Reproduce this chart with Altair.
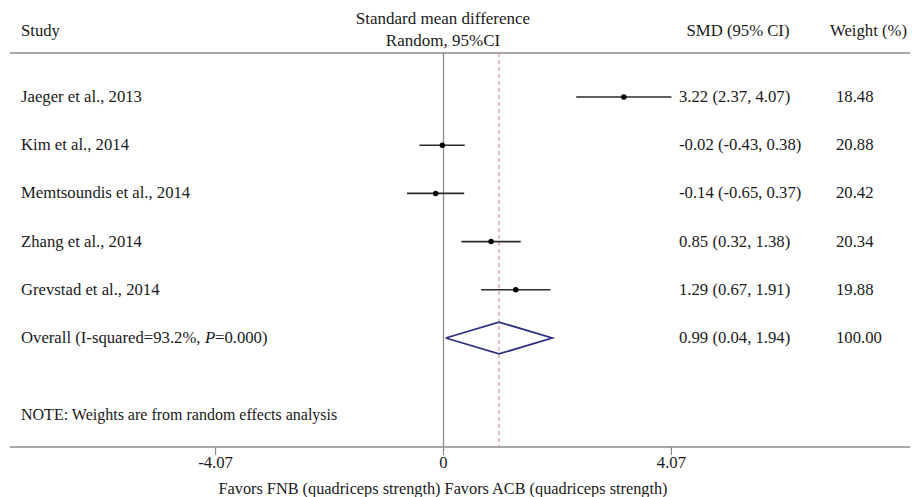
import altair as alt
import pandas as pd

studies = ["Jaeger et al., 2013", "Kim et al., 2014", "Memtsoundis et al., 2014",
           "Zhang et al., 2014", "Grevstad et al., 2014"]
smd = [3.22, -0.02, -0.14, 0.85, 1.29]
lo = [2.37, -0.43, -0.65, 0.32, 0.67]
hi = [4.07, 0.38, 0.37, 1.38, 1.91]
weights = ["18.48", "20.88", "20.42", "20.34", "19.88"]
overall = {"est": 0.99, "lo": 0.04, "hi": 1.94, "weight": "100.00"}
tick_vals = [-4.07, 0, 4.07]
tick_labels = ["-4.07", "0", "4.07"]

FONT = "Liberation Serif"
FS = 16.7
TXT = "#1a1a1a"
GRAY = "#8a8a8a"

W, H = 904, 489
xs = alt.Scale(domain=[(8 - 443.5) / 56.0, (912 - 443.5) / 56.0], nice=False, zero=False)
# row r -> plot y = 89 + (r-1)*48.2
ys = alt.Scale(domain=[1 - 89 / 48.2, 1 + (H - 89) / 48.2], nice=False, zero=False, reverse=True)

rows = list(range(1, len(studies) + 1))
df = pd.DataFrame({"study": studies, "smd": smd, "lo": lo, "hi": hi, "w": weights, "row": rows})
df["ci"] = [f"{s:.2f} ({l:.2f}, {h:.2f})" for s, l, h in zip(smd, lo, hi)]

ov_row = len(studies) + 1
ov = pd.DataFrame({"row": [ov_row], "lo": [overall["lo"]], "hi": [overall["hi"]], "est": [overall["est"]],
                   "ci": [f"{overall['est']:.2f} ({overall['lo']:.2f}, {overall['hi']:.2f})"],
                   "w": [overall["weight"]]})

half = 0.33
diamond = pd.DataFrame({
    "x": [overall["lo"], overall["est"], overall["hi"], overall["est"], overall["lo"]],
    "y": [ov_row, ov_row - half, ov_row, ov_row + half, ov_row],
    "o": [0, 1, 2, 3, 4],
})

base = alt.Chart(df)

ci_lines = base.mark_rule(color="#2a2a2a", strokeWidth=1.6).encode(
    x=alt.X("lo:Q", scale=xs, axis=None), x2="hi:Q",
    y=alt.Y("row:Q", scale=ys, axis=None))
dots = base.mark_point(filled=True, color="#000", size=30, opacity=1).encode(
    x=alt.X("smd:Q", scale=xs, axis=None), y=alt.Y("row:Q", scale=ys, axis=None))

def col_text(src, field, x, **kw):
    return src.mark_text(align="left", baseline="middle", font=FONT, fontSize=FS, color=TXT, **kw).encode(
        x=alt.value(x), y=alt.Y("row:Q", scale=ys, axis=None), text=field)

study_txt = col_text(base, "study:N", 13)
ci_txt = col_text(base, "ci:N", 671)
w_txt = col_text(base, "w:N", 828)

ovb = alt.Chart(ov)
ov_ci = col_text(ovb, "ci:N", 671)
ov_w = col_text(ovb, "w:N", 828)
ov_lab1 = col_text(ovb, alt.value("Overall (I-squared=93.2%,"), 13)
ov_lab2 = col_text(ovb, alt.value("P"), 197, fontStyle="italic")
ov_lab3 = col_text(ovb, alt.value("=0.000)"), 207)

dia = alt.Chart(diamond).mark_line(color="#2f2f85", strokeWidth=1.8).encode(
    x=alt.X("x:Q", scale=xs, axis=None), y=alt.Y("y:Q", scale=ys, axis=None), order="o:Q")

vline_df = pd.DataFrame({"x": [0.0]})
zero_line = alt.Chart(vline_df).mark_rule(color=GRAY, strokeWidth=1.3).encode(
    x=alt.X("x:Q", scale=xs, axis=None), y=alt.value(45), y2=alt.value(439))
est_df = pd.DataFrame({"x": [overall["est"]]})
est_line = alt.Chart(est_df).mark_rule(color="#d99a9a", strokeWidth=1.2, strokeDash=[4, 3]).encode(
    x=alt.X("x:Q", scale=xs, axis=None), y=alt.value(45), y2=alt.value(439))

hdr_line = alt.Chart(vline_df).mark_rule(color=GRAY, strokeWidth=1.5).encode(
    x=alt.value(2), x2=alt.value(902), y=alt.value(45))
axis_line = alt.Chart(vline_df).mark_rule(color=GRAY, strokeWidth=1.5).encode(
    x=alt.value(2), x2=alt.value(902), y=alt.value(439))

tk = pd.DataFrame({"v": tick_vals, "lab": tick_labels})
ticks = alt.Chart(tk).mark_rule(color=GRAY, strokeWidth=1.2).encode(
    x=alt.X("v:Q", scale=xs, axis=None), y=alt.value(439), y2=alt.value(447))
tick_txt = alt.Chart(tk).mark_text(align="center", baseline="middle", font=FONT, fontSize=FS, color=TXT).encode(
    x=alt.X("v:Q", scale=xs, axis=None), y=alt.value(455), text="lab:N")

def label(txt, x, y, align="left", size=FS):
    return alt.Chart(vline_df).mark_text(align=align, baseline="middle", font=FONT, fontSize=size, color=TXT).encode(
        x=alt.value(x), y=alt.value(y), text=alt.value(txt))

headers = [
    label("Study", 13, 23),
    label("Standard mean difference", 435, 11, "center", 17),
    label("Random, 95%CI", 435, 33, "center", 17),
    label("SMD (95% CI)", 730, 23, "center"),
    label("Weight (%)", 822, 23),
    label("NOTE: Weights are from random effects analysis", 13, 407, "left", 16),
    label("Favors FNB (quadriceps strength) Favors ACB (quadriceps strength)", 435, 481, "center", 16.3),
]

chart = alt.layer(
    hdr_line, axis_line, zero_line, est_line, ticks, tick_txt,
    ci_lines, dots, dia, study_txt, ci_txt, w_txt, ov_ci, ov_w, ov_lab1, ov_lab2, ov_lab3,
    *headers
).properties(width=W, height=H, padding=0, autosize="none").configure_view(stroke=None)

chart.save("out.html", embed_options={"renderer": "svg", "actions": False})
